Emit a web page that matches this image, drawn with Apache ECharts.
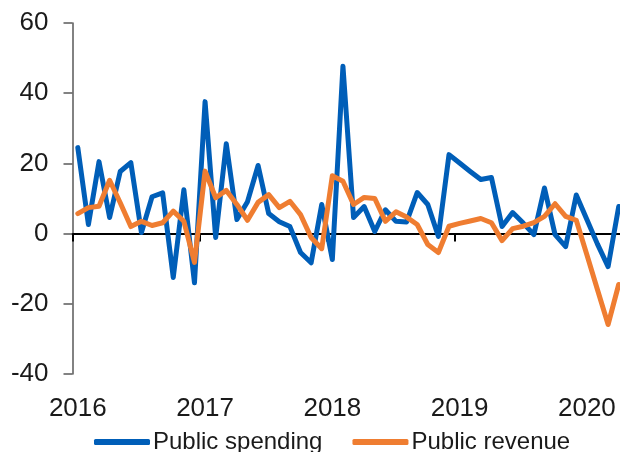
<!DOCTYPE html>
<html>
<head>
<meta charset="utf-8">
<script src="https://cdn.jsdelivr.net/npm/echarts@6/dist/echarts.min.js"></script>
<style>
html,body{margin:0;padding:0;background:#fff;overflow:hidden;width:620px;height:452px;}
#c{width:624px;height:452px;}
</style>
</head>
<body>
<div id="c"></div>
<script>
// Monthly categories Jan 2016 .. Apr 2020
const categories = [];
for (let y = 2016; y <= 2020; y++) {
  for (let m = 1; m <= 12; m++) {
    if (y === 2020 && m > 4) break;
    categories.push(y + '-' + (m < 10 ? '0' + m : m));
  }
}
const publicSpending = [
  24.5, 2.6, 20.5, 4.6, 17.7, 20.2, 0.3, 10.5, 11.6, -12.5, 12.5, -14,
  37.6, -1.1, 25.6, 4, 9.1, 19.4, 5.7, 3.4, 2, -5.4, -8.3, 8.3,
  -7.4, 47.7, 4.6, 7.7, 0.6, 6.8, 3.5, 3.3, 11.7, 8.3, -0.8, 22.5,
  20.1, 17.7, 15.4, 16, 2, 6, 3, -0.3, 13, -0.3, -3.7, 11,
  4, -3, -9.4, 7.7
];
const publicRevenue = [
  5.7, 7.4, 7.8, 15.2, 8.8, 2, 3.5, 2.3, 3.1, 6.4, 3.5, -8.2,
  17.8, 10.2, 12.3, 8.3, 3.8, 8.9, 11.1, 7.4, 9.2, 5.4, -1.1, -4.3,
  16.5, 14.9, 8.3, 10.3, 10, 3.5, 6.2, 4.7, 2.6, -3.1, -5.4, 2.1,
  2.9, 3.6, 4.3, 3.1, -2, 1.4, 2.1, 3.1, 4.9, 8.5, 4.9, 3.8,
  -6, -16, -25.9, -14.5
];
const yTicks = { min: -40, max: 60, interval: 20 };

const FONT = '"Liberation Sans", Arial, Helvetica, sans-serif';
const chart = echarts.init(document.getElementById('c'), null, { renderer: 'canvas' });
chart.setOption({
  animation: false,
  backgroundColor: '#ffffff',
  grid: { left: 72.5, right: 0, top: 23, bottom: 78, containLabel: false },
  legend: {
    left: 94, top: 430, padding: 0,
    itemWidth: 56, itemHeight: 6, itemGap: 30,
    icon: 'roundRect',
    textStyle: { fontFamily: FONT, fontSize: 24, color: '#1a1a1a', padding: [0, 0, 0, -2] },
    data: ['Public spending', 'Public revenue']
  },
  xAxis: [
    {
      type: 'category', data: categories, boundaryGap: true,
      axisLine: { onZero: true, lineStyle: { color: '#000', width: 2 } },
      axisTick: { show: true, interval: 11, length: 8, lineStyle: { color: '#000', width: 2 } },
      axisLabel: { show: false },
      splitLine: { show: false }
    },
    {
      type: 'category', data: categories, boundaryGap: true, position: 'bottom',
      axisLine: { show: false, onZero: false },
      axisTick: { show: false },
      axisLabel: {
        show: true, interval: 11, margin: 22,
        fontFamily: FONT, fontSize: 26, color: '#1a1a1a',
        formatter: v => v.slice(0, 4)
      },
      splitLine: { show: false }
    }
  ],
  yAxis: {
    type: 'value', min: yTicks.min, max: yTicks.max, interval: yTicks.interval,
    axisLine: { show: true, lineStyle: { color: '#595959', width: 1.5 } },
    axisTick: { show: true, length: 9, lineStyle: { color: '#595959', width: 1.5 } },
    axisLabel: { margin: 24, fontFamily: FONT, fontSize: 26, color: '#1a1a1a' },
    splitLine: { show: false }
  },
  series: [
    {
      name: 'Public spending', type: 'line', xAxisIndex: 0, data: publicSpending,
      symbol: 'none', smooth: false, color: '#005EB8',
      lineStyle: { width: 5, color: '#005EB8', cap: 'round', join: 'round' }, z: 2
    },
    {
      name: 'Public revenue', type: 'line', xAxisIndex: 0, data: publicRevenue,
      symbol: 'none', smooth: false, color: '#EF7D31',
      lineStyle: { width: 5, color: '#EF7D31', cap: 'round', join: 'round' }, z: 3
    }
  ]
});
</script>
</body>
</html>
